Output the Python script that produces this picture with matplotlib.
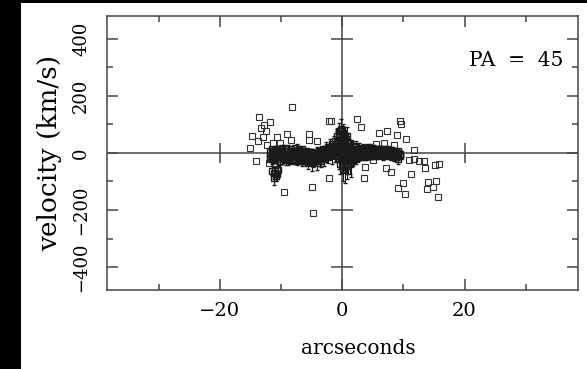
import matplotlib.pyplot as plt
from matplotlib.patches import Rectangle
from matplotlib.ticker import MultipleLocator

# scattered single points (arcsec, km/s)
out_x = [-8.2, -13.6, -11.8, -12.8, -13.3, -12.5, -14.7, -13.0, -13.8, -10.6,
         -9.0, -8.4, -10.2, -11.3, -5.4, -4.1, -5.5, -15.0, -12.3, -14.1,
         -12.0, -10.6, -9.5, -4.9, -4.8, -2.2, -2.2, 2.4, 3.1, -1.9,
         6.0, 7.4, 9.4, 9.6, 8.9, 10.5, 5.6, 6.8, 11.8, 10.9,
         11.7, 12.5, 13.3, 13.6, 15.1, 15.8, 11.3, 10.0, 9.1, 10.3,
         14.0, 15.4, 14.8, 13.8, 15.6, 3.5, 5.1, 3.8, 7.1, 7.9,
         8.4]
out_v = [162, 125, 108, 98, 87, 78, 60, 55, 42, 55,
         67, 46, 36, 36, 67, 42, 46, 16, 26, -28,
         -36, -57, -138, -118, -209, 110, -89, 118, 90, 110,
         71, 75, 113, 101, 63, 48, 32, 34, 11, -25,
         -22, -27, -30, -54, -42, -39, -75, -104, -124, -144,
         -103, -97, -118, -127, -155, -89, -25, -50, -54, -68,
         26]

# dense rotation band with error bars
band_x = [-11.8, -11.5, -11.2, -11.0, -10.7, -10.4, -10.1, -9.8, -9.5, -9.2,
          -8.9, -8.6, -8.3, -8.0, -7.7, -7.4, -7.1, -6.8, -6.5, -6.2,
          -5.9, -5.6, -5.3, -5.0, -4.7, -4.4, -4.1, -3.8, -3.5, -3.2,
          -2.9, -2.6, -2.3, -2.0, -1.7, -1.4, -1.1, -0.8, -0.5, -0.2,
          0.1, 0.4, 0.7, 1.0, 1.3, 1.6, 1.9, 2.2, 2.5, 2.8,
          3.1, 3.4, 3.7, 4.0, 4.3, 4.6, 4.9, 5.2, 5.5, 5.8,
          6.1, 6.4, 6.7, 7.0, 7.3, 7.6, 7.9, 8.2, 8.5, 8.8,
          9.1, 9.4]
band_v = [2, -3, 5, -2, 3, -5, 4, 0, 6, -4,
          8, 2, -6, 5, 0, 8, -3, 4, -8, 2,
          -10, -4, -12, -6, -15, -8, -3, -12, 0, -6,
          5, 12, 3, 18, 10, 25, 15, 35, 20, 45,
          30, 50, 10, 25, -5, 15, 5, 20, 8, 15,
          5, 12, 6, 14, 8, 10, 4, 12, 6, 10,
          3, 9, 5, 8, 2, 6, 0, 4, -5, 2,
          -8, -3]
band_e = [15, 20, 12, 25, 18, 14, 20, 16, 22, 12,
          18, 14, 20, 12, 16, 22, 14, 18, 20, 15,
          22, 18, 25, 20, 30, 18, 22, 25, 20, 18,
          20, 25, 18, 30, 22, 35, 25, 40, 30, 45,
          50, 40, 35, 45, 30, 25, 20, 22, 18, 20,
          15, 18, 14, 16, 15, 20, 14, 16, 15, 14,
          12, 15, 14, 12, 16, 14, 12, 15, 18, 14,
          16, 12]
band_v2 = [-12, 14, -10, 10, -14, 12, -8, 16, -12, 15,
           -6, -15, 14, -10, 18, -12, 12, -18, 14, -16,
           6, -20, 2, -22, 0, -25, -18, 8, -22, 12,
           -10, -8, 22, -5, 30, 0, 40, 5, 55, 10,
           65, -20, 40, -30, 35, -15, 25, -5, 0, -5,
           18, -3, 16, -2, 18, -4, 16, -2, 14, -4,
           15, -3, 12, -6, 12, -8, 10, -12, 8, -15,
           5, -12]
band_v3 = [-20, -15, -25, -18, -22, -12, -28, -16, -20, -24,
           -18, -26, -14, -22, -28, -16, -24, -20, -30, -22,
           -28, -32, -24, -35, -30, -26, -34, -22, -28, -18,
           -20, -12, -15, -5, -10, 2, -8, 15, -20, 25,
           -30, -60, -45, -10, -40, -25, -12, -20, -15, -10,
           -12, -8, -14, -6, -10, -12, -8, -5, -10, -6,
           -8, -4, -10, -5, -8, -2, -12, -6, -15, -10,
           -20, -8]
band_e3 = [10, 25, 12, 18, 30, 10, 15, 22, 12, 18,
           25, 12, 20, 15, 10, 28, 12, 20, 15, 12,
           18, 25, 15, 30, 20, 15, 25, 12, 20, 15,
           25, 15, 20, 12, 30, 15, 25, 20, 35, 30,
           40, 45, 30, 25, 35, 20, 15, 18, 12, 15,
           12, 15, 10, 14, 12, 10, 15, 12, 10, 12,
           10, 12, 15, 10, 12, 10, 14, 12, 15, 12,
           18, 10]

# nucleus
ctr_x = [-0.9, -0.6, -0.4, -0.2, 0.0, 0.2, 0.4, 0.6, 0.8, 1.0,
         1.2, -0.7, -0.3, 0.1, 0.5, 0.9, 1.4, -0.5, 0.3, 0.7]
ctr_v = [60, 75, 40, 85, 55, 70, -30, 20, -45, 35,
         -20, -10, -40, -55, 45, 0, -35, 10, -15, 60]
ctr_e = [25, 30, 20, 35, 25, 30, 30, 20, 45, 25,
         30, 20, 35, 45, 25, 20, 50, 20, 25, 30]

# knot at -11"
clu_x = [-11.4, -11.1, -10.9, -11.2, -10.7, -10.5]
clu_v = [-62, -70, -80, -88, -75, -60]
clu_e = [15, 20, 18, 25, 15, 20]

cross_x = [-20, 20]
cross_v = [-400, -200, 200, 400]

plt.rcParams['font.family'] = 'DejaVu Serif'

fig = plt.figure(figsize=(5.87, 3.69), dpi=100, facecolor='black')
fig.patches.append(Rectangle((21 / 587, 0), 1, 366 / 369, transform=fig.transFigure,
                             facecolor='white', edgecolor='none', zorder=-10))
ax = fig.add_axes([0.1818, 0.2141, 0.8024, 0.7434])

axcol = '#444444'
ax.axhline(0, color=axcol, lw=1.1, zorder=1)
ax.axvline(0, color=axcol, lw=1.1, zorder=1)
ax.plot(cross_x, [0] * len(cross_x), ls='none', marker='|', ms=15, mew=1.1, color=axcol)
ax.plot([0] * len(cross_v), cross_v, ls='none', marker='_', ms=16, mew=1.1, color=axcol)

mk = dict(ls='none', marker='s', ms=3.8, mfc='none', mec='#333333', mew=0.8)
bk = dict(ls='none', marker='s', ms=3.8, mfc='none', mec='#1a1a1a', mew=1.0)
eb = dict(ecolor='#1a1a1a', elinewidth=0.8, capsize=1.5)
ax.plot(out_x, out_v, **mk)
ax.plot(band_x, band_v2, **bk)
ax.errorbar(band_x, band_v, yerr=band_e, **eb, **bk)
ax.errorbar(band_x, band_v3, yerr=band_e3, **eb, **bk)
ax.errorbar(ctr_x, ctr_v, yerr=ctr_e, **eb, **bk)
ax.errorbar(clu_x, clu_v, yerr=clu_e, **eb, **bk)

ax.set_xlim(-38.5, 38.5)
ax.set_ylim(-480, 480)
ax.xaxis.set_major_locator(MultipleLocator(20))
ax.xaxis.set_minor_locator(MultipleLocator(10))
ax.yaxis.set_major_locator(MultipleLocator(200))
ax.yaxis.set_minor_locator(MultipleLocator(100))
ax.tick_params(which='both', direction='in', top=True, right=True, color=axcol, width=1.1)
ax.tick_params(which='major', length=8)
ax.tick_params(which='minor', length=4)
ax.tick_params(axis='x', labelsize=14, pad=9)
ax.tick_params(axis='y', labelsize=13, pad=12)
plt.setp(ax.get_yticklabels(), rotation=90, va='center')
for s in ax.spines.values():
    s.set_color(axcol)
    s.set_linewidth(1.1)

ax.set_xlabel('arcseconds', fontsize=14.5)
ax.set_ylabel('velocity (km/s)', fontsize=19)
ax.xaxis.set_label_coords(0.534, -0.18)
ax.yaxis.set_label_coords(-0.0955, 0.5)
ax.text(36.1, 323, 'PA  =  45', ha='right', va='center', fontsize=14.5)

fig.savefig('out.png', dpi=100, facecolor=fig.get_facecolor())
